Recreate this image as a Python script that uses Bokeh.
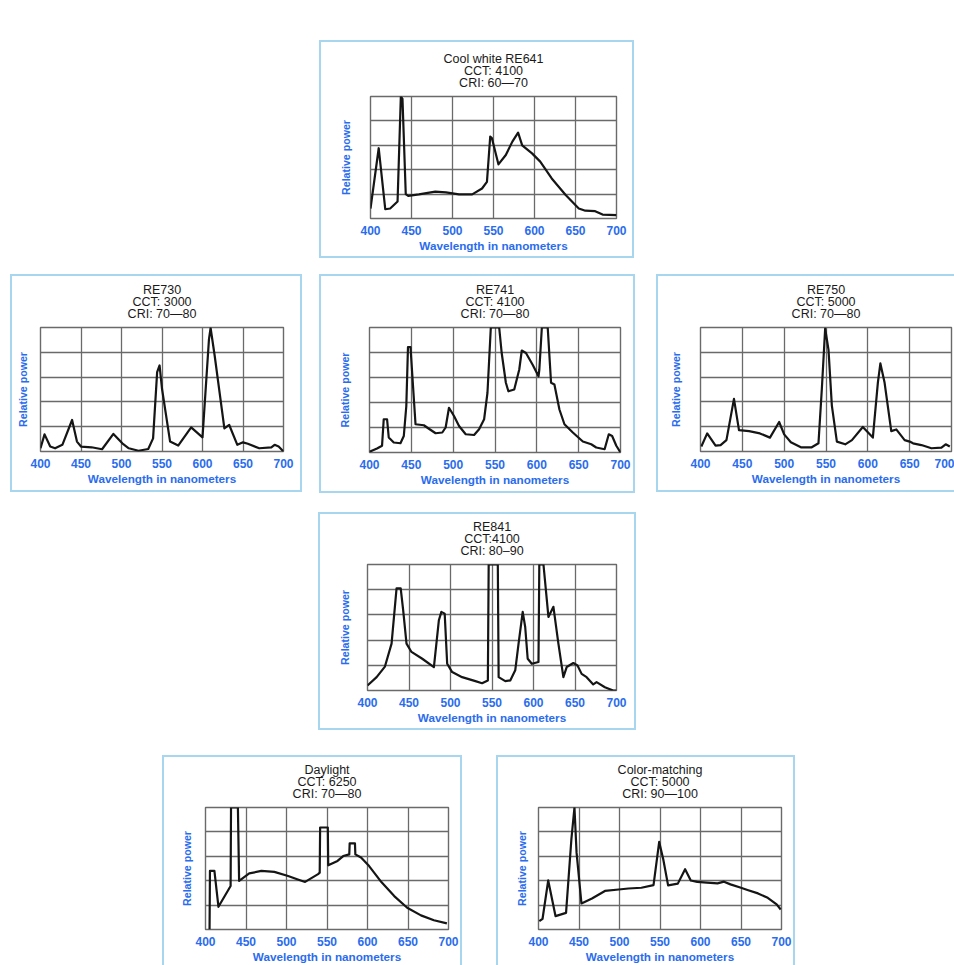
from bokeh.plotting import figure
from bokeh.models import FixedTicker, Range1d, Spacer, Title
from bokeh.layouts import row, column
from bokeh.embed import file_html
from bokeh.resources import INLINE

# ---------------- data ----------------
X_TICKS = [400, 450, 500, 550, 600, 650, 700]
Y_GRID = [1, 2, 3, 4]
Y_LABEL = "Relative power"
X_LABEL = "Wavelength in nanometers"

titles_641 = ["Cool white RE641", "CCT: 4100", "CRI: 60\u201470"]
wl_641 = [400, 410, 418, 424, 433, 437, 439, 443, 446, 459, 479, 492, 508, 524, 536, 542,
          546, 548, 556, 565, 573, 580, 585, 597, 607, 621, 638, 654, 662, 674, 683, 700]
pw_641 = [0.41, 2.88, 0.38, 0.41, 0.7, 5.0, 4.9, 1.0, 0.93, 0.99, 1.1, 1.07, 0.99, 0.99, 1.23, 1.5,
          3.36, 3.3, 2.22, 2.6, 3.15, 3.52, 3.0, 2.67, 2.33, 1.64, 0.96, 0.41, 0.32, 0.30, 0.16, 0.14]

titles_730 = ["RE730", "CCT: 3000", "CRI: 70\u201480"]
wl_730 = [400, 405, 412, 418, 427, 439, 445, 450, 463, 476, 490, 501, 509, 521, 533, 539, 544, 547,
          550, 560, 570, 586, 600, 608, 610, 615, 627, 633, 643, 650, 656, 670, 685, 689, 694, 700]
pw_730 = [0.13, 0.69, 0.2, 0.13, 0.27, 1.27, 0.4, 0.2, 0.17, 0.09, 0.71, 0.33, 0.13, 0.03, 0.1, 0.53, 3.2, 3.47,
          2.53, 0.4, 0.24, 0.97, 0.57, 4.53, 4.98, 3.87, 0.93, 1.07, 0.27, 0.37, 0.31, 0.13, 0.17, 0.27, 0.2, 0.0]

titles_741 = ["RE741", "CCT: 4100", "CRI: 70\u201480"]
wl_741 = [400, 409, 415, 417, 421, 423, 429, 437, 441, 444, 446, 449, 451, 455, 465, 471, 479, 487,
          491, 495, 501, 507, 515, 525, 531, 537, 541, 545, 555, 558, 563, 566, 573, 579, 582, 587,
          595, 602, 603, 606, 613, 617, 621, 627, 633, 643, 655, 665, 671, 681, 686, 690, 695, 700]
pw_741 = [0.03, 0.16, 0.27, 1.33, 1.33, 0.6, 0.4, 0.37, 0.66, 1.86, 4.22, 4.22, 3.18, 1.13, 1.09, 0.95, 0.77, 0.8,
          1.0, 1.79, 1.46, 1.06, 0.73, 0.7, 0.93, 1.33, 2.39, 5.0, 5.0, 3.98, 2.79, 2.45, 2.52, 3.32, 4.08, 3.98,
          3.51, 3.05, 3.32, 5.0, 5.0, 2.79, 2.72, 1.72, 1.13, 0.8, 0.44, 0.33, 0.2, 0.13, 0.73, 0.66, 0.27, 0.0]

titles_750 = ["RE750", "CCT: 5000", "CRI: 70\u201480"]
wl_750 = [401, 408, 418, 424, 431, 440, 446, 458, 471, 483, 494, 500, 508, 520, 533, 541, 545, 549, 553,
          557, 563, 573, 581, 594, 606, 612, 615, 620, 628, 634, 644, 650, 654, 664, 676, 688, 693, 698]
pw_750 = [0.2, 0.73, 0.24, 0.26, 0.46, 2.12, 0.86, 0.82, 0.73, 0.56, 1.19, 0.69, 0.37, 0.17, 0.17, 0.33, 2.51, 4.96, 4.1,
          1.85, 0.4, 0.29, 0.46, 0.99, 0.56, 2.78, 3.55, 2.78, 0.82, 0.89, 0.46, 0.40, 0.33, 0.26, 0.13, 0.16, 0.29, 0.2]

titles_841 = ["RE841", "CCT:4100", "CRI: 80\u201390"]
wl_841 = [400, 411, 421, 429, 435, 440, 443, 447, 453, 466, 480, 486, 489, 493, 496, 502, 514, 530, 538,
          545, 546, 557, 558, 566, 572, 578, 582, 587, 590, 593, 598, 606, 607, 612, 618, 624, 630, 636,
          640, 648, 653, 658, 664, 672, 676, 686, 696, 700]
pw_841 = [0.2, 0.53, 0.95, 1.86, 4.05, 4.05, 3.18, 1.86, 1.53, 1.26, 0.93, 2.79, 3.12, 3.05, 1.06, 0.73, 0.53, 0.37, 0.29,
          0.4, 5.0, 5.0, 0.53, 0.37, 0.4, 0.8, 1.86, 3.12, 2.52, 1.26, 1.06, 1.13, 5.0, 5.0, 2.92, 3.32, 1.86, 0.53,
          0.93, 1.09, 0.99, 0.66, 0.53, 0.24, 0.33, 0.13, 0.0, 0.0]

titles_day = ["Daylight", "CCT: 6250", "CRI: 70\u201480"]
wl_day = [405, 405.5, 411, 416, 431, 431.5, 440, 441.5, 454, 469, 485, 502, 514, 523, 539, 541, 541.5, 551,
          551.5, 563, 570, 577.5, 578, 584.5, 585, 592, 602, 616, 633, 649, 666, 682, 698]
pw_day = [0.0, 2.4, 2.4, 0.93, 1.78, 5.0, 5.0, 1.99, 2.3, 2.4, 2.36, 2.19, 2.05, 1.95, 2.27, 2.33, 4.18, 4.18,
          2.63, 2.81, 3.01, 3.08, 3.53, 3.53, 3.08, 2.95, 2.6, 1.99, 1.37, 0.89, 0.58, 0.38, 0.25]

titles_cm = ["Color-matching", "CCT: 5000", "CRI: 90\u2014100"]
wl_cm = [401, 405, 412, 421, 434, 440.6, 444.4, 447, 453, 466, 482, 499, 511, 527, 542, 549, 554, 560, 572,
         581, 588, 596, 608, 621, 629, 637, 650, 658, 671, 683, 694, 699]
pw_cm = [0.34, 0.44, 2.01, 0.55, 0.68, 3.7, 5.0, 3.15, 1.07, 1.27, 1.58, 1.64, 1.68, 1.71, 1.82, 3.59, 2.88, 1.81, 1.88,
         2.47, 2.01, 1.95, 1.92, 1.89, 1.96, 1.85, 1.71, 1.62, 1.48, 1.3, 1.03, 0.82]

# ---------------- style ----------------
FONT = "Liberation Sans"
BLUE = "#2a6cec"
GRID = "#6a6a6a"
BOX = "#a9d6ef"
# title lines from the frame outwards: (vertical_align, standoff)
TITLE_SLOTS = [("top", 9.3), ("bottom", -13.9), ("top", 1.5)]


def panel(titles, wl, pw, w, h, left, right, top, bottom, ygap, mr=2, mb=2):
    # w, h, left, right, top, bottom describe the light-blue box (drawn as a 2px box-shadow
    # around the figure, which sits 2px inside the box); mr/mb: margin kept on right/bottom
    p = figure(width=w - 2 - mr, height=h - 2 - mb, title=None,
               x_range=Range1d(400, 700), y_range=Range1d(0, 5),
               output_backend="svg", toolbar_location=None,
               min_border_left=left - 2, min_border_right=right - mr,
               min_border_top=top - 2, min_border_bottom=bottom - mb,
               background_fill_color="white", border_fill_color="white")
    p.margin = (2, mr, mb, 2)
    p.styles = {"box-shadow": "0 0 0 2px " + BOX}
    p.line(wl, pw, line_color="#151515", line_width=2.2, line_join="round")
    p.outline_line_color = GRID
    p.outline_line_width = 1.4
    p.xaxis.ticker = FixedTicker(ticks=X_TICKS)
    p.xgrid.ticker = FixedTicker(ticks=X_TICKS)
    p.yaxis.ticker = FixedTicker(ticks=[])
    p.ygrid.ticker = FixedTicker(ticks=Y_GRID)
    for g in (p.xgrid, p.ygrid):
        g.grid_line_color = GRID
        g.grid_line_width = 1.3
    p.xaxis.axis_line_color = None
    p.xaxis.major_tick_line_color = None
    p.xaxis.minor_tick_line_color = None
    p.xaxis.major_tick_out = 0
    p.xaxis.major_tick_in = 0
    p.xaxis.major_label_standoff = 7
    p.xaxis.major_label_text_color = BLUE
    p.xaxis.major_label_text_font = FONT
    p.xaxis.major_label_text_font_size = "12px"
    p.xaxis.major_label_text_font_style = "bold"
    p.xaxis.axis_label = X_LABEL
    p.xaxis.axis_label_text_color = BLUE
    p.xaxis.axis_label_text_font = FONT
    p.xaxis.axis_label_text_font_size = "11.7px"
    p.xaxis.axis_label_text_font_style = "bold"
    p.xaxis.axis_label_standoff = 1
    p.yaxis.axis_line_color = None
    p.yaxis.major_tick_line_color = None
    p.yaxis.minor_tick_line_color = None
    p.yaxis.major_tick_out = 0
    p.yaxis.major_tick_in = 0
    p.yaxis.axis_label = Y_LABEL
    p.yaxis.axis_label_text_color = BLUE
    p.yaxis.axis_label_text_font = FONT
    p.yaxis.axis_label_text_font_size = "10.6px"
    p.yaxis.axis_label_text_font_style = "bold"
    p.yaxis.axis_label_standoff = ygap
    # three centred title lines, nearest to the frame added first
    for txt, (va, so) in zip(reversed(titles), TITLE_SLOTS):
        p.add_layout(Title(text=txt, align="center", vertical_align=va, standoff=so,
                           text_font=FONT, text_font_size="12.5px", text_font_style="normal",
                           text_color="#1a1a1a"), "above")
    return p


p1 = panel(titles_641, wl_641, pw_641, 315, 218, 51, 18, 56, 40, 19)
p2 = panel(titles_730, wl_730, pw_730, 292, 218, 30, 19, 53, 40, 12)
p3 = panel(titles_741, wl_741, pw_741, 316, 219, 50, 15, 52, 41, 19)
p4 = panel(titles_750, wl_750, pw_750, 298, 218, 44, 3, 52, 40, 19, mr=0)
p5 = panel(titles_841, wl_841, pw_841, 318, 218, 49, 20, 52, 40, 17)
p6 = panel(titles_day, wl_day, pw_day, 300, 210, 43, 14, 52, 36, 13, mb=0)
p7 = panel(titles_cm, wl_cm, pw_cm, 299, 210, 42, 14, 52, 36, 11, mb=0)


def sp(w, h):
    return Spacer(width=w, height=h)


layout = column(
    sp(950, 40),
    row(sp(319, 218), p1),
    sp(950, 16),
    row(sp(10, 219), p2, sp(17, 219), p3, sp(21, 219), p4),
    sp(950, 19),
    row(sp(318, 218), p5),
    sp(950, 25),
    row(sp(162, 210), p6, sp(34, 210), p7),
)

open("out.html", "w").write(file_html(layout, INLINE))
